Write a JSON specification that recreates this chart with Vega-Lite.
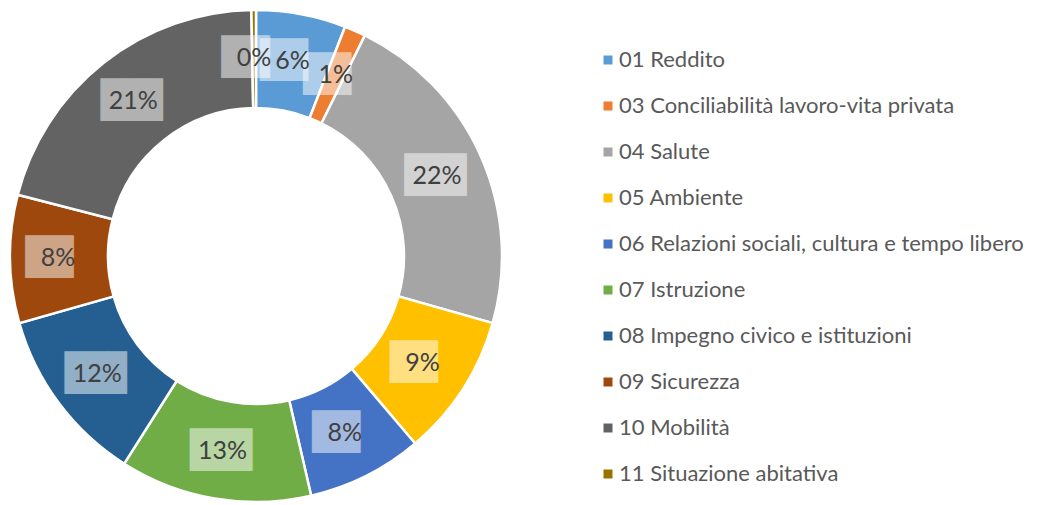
{
  "$schema": "https://vega.github.io/schema/vega-lite/v6.json",
  "width": 512,
  "height": 512,
  "autosize": {"type": "none"},
  "padding": {"left": 0, "top": 0, "right": 526, "bottom": 0},
  "background": "white",
  "config": {"view": {"stroke": null}},
  "data": {
    "values": [
      {"cat": "01 Reddito", "share": 0.059},
      {"cat": "03 Conciliabilità lavoro-vita privata", "share": 0.014},
      {"cat": "04 Salute", "share": 0.221},
      {"cat": "05 Ambiente", "share": 0.094},
      {"cat": "06 Relazioni sociali, cultura e tempo libero", "share": 0.076},
      {"cat": "07 Istruzione", "share": 0.126},
      {"cat": "08 Impegno civico e istituzioni", "share": 0.116},
      {"cat": "09 Sicurezza", "share": 0.084},
      {"cat": "10 Mobilità", "share": 0.207},
      {"cat": "11 Situazione abitativa", "share": 0.003}
    ]
  },
  "encoding": {
    "theta": {"field": "share", "type": "quantitative", "stack": true},
    "order": {"field": "cat", "type": "ordinal"}
  },
  "layer": [
    {
      "mark": {"type": "arc", "innerRadius": 148, "outerRadius": 246, "stroke": "white", "strokeWidth": 2.5},
      "encoding": {
        "color": {
          "field": "cat",
          "type": "nominal",
          "scale": {"range": ["#5B9BD5", "#ED7D31", "#A5A5A5", "#FFC000", "#4472C4", "#70AD47", "#255E91", "#9E480E", "#636363", "#997300"]},
          "legend": {
            "title": null,
            "orient": "none",
            "legendX": 597,
            "legendY": 49,
            "labelFont": "Lato",
            "labelFontSize": 22,
            "labelColor": "#595959",
            "labelLimit": 0,
            "symbolType": "square",
            "symbolSize": 81,
            "symbolStrokeWidth": 0,
            "rowPadding": 24,
            "labelOffset": 0
          }
        }
      }
    },
    {
      "transform": [{"calculate": "datum.share >= 0.095 ? '██▉' : '██▎'", "as": "box"}],
      "mark": {"type": "text", "radius": 198, "font": "DejaVu Sans Mono", "fontSize": 36, "color": "white", "opacity": 0.5, "baseline": "middle", "align": "center"},
      "encoding": {"text": {"field": "box"}, "detail": {"field": "cat"}}
    },
    {
      "mark": {"type": "text", "radius": 198, "font": "Lato", "fontSize": 25, "color": "#404040", "baseline": "middle", "align": "center"},
      "encoding": {"text": {"field": "share", "format": ".0%"}, "detail": {"field": "cat"}}
    }
  ]
}
